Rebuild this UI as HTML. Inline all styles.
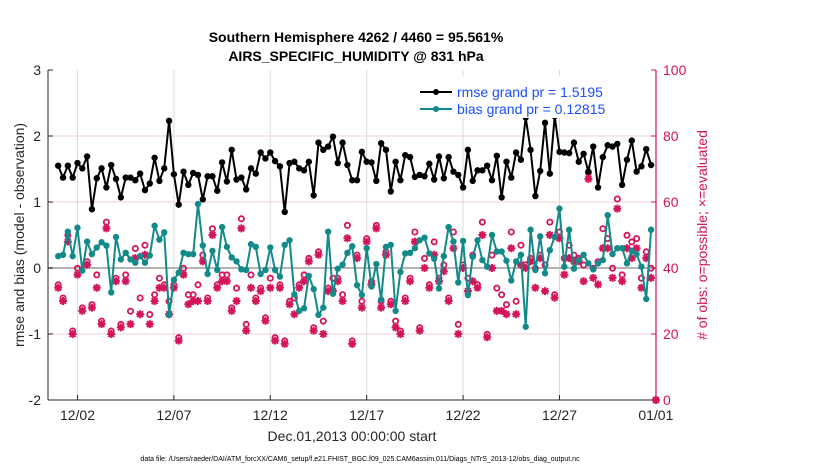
<!DOCTYPE html>
<html><head><meta charset="utf-8"><style>
body{margin:0;background:#fff;}
svg{display:block;font-family:"Liberation Sans",Arial,sans-serif;}
</style></head><body>
<svg id="chart" width="830" height="470" viewBox="0 0 830 470">
<g id="grid"></g>
<g id="axes"></g>
<g id="series"></g>
<text x="356" y="42" text-anchor="middle" font-size="14" font-weight="bold">Southern Hemisphere 4262 / 4460 = 95.561%</text>
<text x="356" y="61" text-anchor="middle" font-size="14" font-weight="bold">AIRS_SPECIFIC_HUMIDITY @ 831 hPa</text>
<text transform="translate(24,235) rotate(-90)" text-anchor="middle" font-size="14" fill="#262626">rmse and bias (model - observation)</text>
<text transform="translate(707,235) rotate(-90)" text-anchor="middle" font-size="14" fill="#d4145a"># of obs: o=possible; ×=evaluated</text>
<text x="352" y="441" text-anchor="middle" font-size="14" fill="#262626">Dec.01,2013 00:00:00 start</text>
<text x="360" y="461" text-anchor="middle" font-size="7" fill="#000">data file: /Users/raeder/DAI/ATM_forcXX/CAM6_setup/f.e21.FHIST_BGC.f09_025.CAM6assim.011/Diags_NTrS_2013-12/obs_diag_output.nc</text>
<g>
<rect x="416" y="76" width="234" height="42" fill="#fff"/>
<line x1="420" y1="92" x2="452" y2="92" stroke="#000" stroke-width="2"/>
<circle cx="436" cy="92" r="3" fill="#000"/>
<text x="457" y="97" font-size="14" fill="#1a4fff">rmse grand pr = 1.5195</text>
<line x1="420" y1="109" x2="452" y2="109" stroke="#138a8a" stroke-width="2"/>
<circle cx="436" cy="109" r="3" fill="#138a8a"/>
<text x="457" y="114" font-size="14" fill="#1a4fff">bias grand pr = 0.12815</text>
</g>
</svg>
<script>
const rmse=[1.55,1.37,1.55,1.37,1.59,1.51,1.69,0.89,1.36,1.51,1.22,1.56,1.35,1.07,1.37,1.37,1.33,1.43,1.18,1.28,1.67,1.32,1.51,2.23,1.42,0.96,1.46,1.26,1.44,1.41,1.04,1.39,1.39,1.17,1.60,1.31,1.79,1.34,1.37,1.19,1.51,1.43,1.75,1.66,1.75,1.62,1.54,0.85,1.59,1.61,1.51,1.48,1.61,1.10,1.90,1.79,1.84,1.99,1.59,1.90,1.56,
1.33,1.33,1.76,1.61,1.60,1.32,1.89,1.79,1.16,1.61,1.33,1.71,1.68,1.38,1.41,1.39,1.58,1.34,1.69,1.36,1.68,1.46,1.41,1.22,1.79,1.32,1.48,1.48,1.55,1.33,1.70,1.07,1.61,1.37,1.75,1.64,2.28,1.79,1.09,1.47,2.20,1.43,2.30,1.76,1.75,1.74,1.90,1.61,1.73,1.46,1.84,1.22,1.68,1.86,1.84,1.88,1.26,1.64,1.93,1.46,1.54,1.80,1.56];
const bias=[0.18,0.20,0.55,0.18,0.61,-0.04,0.40,0.21,0.31,0.39,0.34,-0.37,0.47,0.13,0.23,0.13,0.08,0.18,0.08,0.19,0.64,0.43,0.54,-0.71,-0.18,-0.07,0.23,0.21,0.21,0.97,0.34,-0.09,0.26,-0.03,0.62,0.32,0.16,0.10,-0.02,-0.03,0.36,0.32,-0.09,-0.03,0.31,-0.03,-0.13,0.35,0.42,-0.40,-0.65,-0.61,-0.12,-0.32,-0.71,-0.60,0.55,-0.39,-0.01,0.05,0.23,
0.33,-0.26,-0.41,0.30,-0.28,0.06,-0.48,0.32,0.35,-0.65,-0.06,0.22,0.23,0.30,0.42,0.46,0.22,0.14,-0.31,0.18,0.62,0.40,-0.22,0.41,-0.41,0.17,0.42,0.12,0.02,0.50,0.25,0.25,0.11,-0.19,0.10,0.20,-0.89,0.58,-0.03,0.48,-0.08,0.27,0.47,0.90,0.02,0.58,-0.01,0.12,0.20,0.07,-0.02,0.07,0.12,0.80,0.21,0.30,0.30,0.07,0.26,0.21,0.02,-0.47,0.58];
const nUsed=[34,30,48,20,38,27,41,28,34,23,52,20,36,22,36,23,43,26,44,23,30,34,34,26,34,18,38,29,30,30,42,30,50,34,36,36,27,30,52,21,34,30,33,24,34,18,34,17,29,26,34,36,42,21,44,20,33,33,36,30,49,
17,43,28,48,35,52,28,44,29,22,20,30,36,48,21,40,34,44,36,39,30,46,20,40,33,36,34,50,19,40,27,
27,26,46,26,41,40,42,34,43,33,50,31,49,38,43,42,42,36,67,37,35,46,46,37,58,36,46,43,46,34,43,37,0];
const nPoss=[34,30,49,20,39,27,41,28,37,23,53,20,36,22,37,26,45,30,46,25,31,36,34,29,34,18,39,31,31,34,43,30,51,34,37,37,27,33,54,22,37,30,33,24,36,18,34,17,29,30,34,37,42,21,44,23,33,36,36,31,52,
17,43,29,48,35,52,29,44,29,23,20,30,36,50,21,42,34,47,36,40,30,50,22,40,36,43,34,53,19,43,33,
31,28,50,29,46,40,42,39,43,40,53,31,50,42,46,43,42,40,68,39,41,51,48,39,60,37,49,47,48,36,44,39,0];
const xTickLabels=["12/02","12/07","12/12","12/17","12/22","12/27","01/01"];
const xTickDays=[1,6,11,16,21,26,31];
const yTickLabels=["-2","-1","0","1","2","3"];
const yTickVals=[-2,-1,0,1,2,3];
const rTickVals=[0,20,40,60,80,100];

const NS='http://www.w3.org/2000/svg';
const L=48,R=656,T=70,B=400;
const day0=58.2,dayW=19.28;
const xDay=d=>day0+d*dayW;
const xIdx=i=>xDay(i/4);
const yL=v=>B-(v+2)/5*(B-T);
const yR=c=>B-c/100*(B-T);
function mk(tag,attrs,parent){const e=document.createElementNS(NS,tag);for(const k in attrs)e.setAttribute(k,attrs[k]);parent.appendChild(e);return e;}
const grid=document.getElementById('grid'),axes=document.getElementById('axes'),ser=document.getElementById('series');

yTickVals.forEach((v,i)=>{
  const y=yL(v);
  if(v!==-2&&v!==3&&v!==0){const g=mk('line',{x1:L,x2:R,y1:y,y2:y,stroke:'#f0d0dc','stroke-width':1},grid);
  
  }
  const t=mk('text',{x:L-7,y:y+5,'text-anchor':'end','font-size':14,fill:'#262626'},axes);t.textContent=yTickLabels[i];
  
  
  mk('line',{x1:L,x2:L+5,y1:y,y2:y,stroke:'#262626'},axes);
});
rTickVals.forEach(c=>{
  const y=yR(c);
  mk('line',{x1:R-5,x2:R,y1:y,y2:y,stroke:'#d4145a'},axes);
  const t=mk('text',{x:R+7,y:y+5,'font-size':14,fill:'#d4145a'},axes);t.textContent=c;
  
  
});
xTickDays.forEach((d,i)=>{
  const x=xDay(d);
  const g=mk('line',{x1:x,x2:x,y1:T,y2:B,stroke:'#dcdcdc'},grid);
  
  
  mk('line',{x1:x,x2:x,y1:B,y2:B-5,stroke:'#262626'},axes);
  const t=mk('text',{x:x,y:B+20,'text-anchor':'middle','font-size':14,fill:'#262626'},axes);t.textContent=xTickLabels[i];
  
  
});
const zl=mk('line',{x1:L,x2:R,y1:yL(0),y2:yL(0),stroke:'#b4b4b4','stroke-width':2},grid);


const ax1=mk('line',{x1:L,x2:L,y1:T,y2:B,stroke:'#262626'},axes);


const ax2=mk('line',{x1:L,x2:R,y1:B,y2:B,stroke:'#262626'},axes);


const ax3=mk('line',{x1:R,x2:R,y1:T,y2:B,stroke:'#d4145a','stroke-width':1.2},axes);



const MG='#d4145a';
nPoss.forEach((c,i)=>{
  const x=xIdx(i),y=yR(c)-(c>0?3:0);
  const o=mk('circle',{cx:x,cy:y,r:2.6,fill:'none',stroke:MG,'stroke-width':1.8},ser);
  
  
});
nUsed.forEach((c,i)=>{
  const x=xIdx(i),y=yR(c),r=4,q=2.9;
  const d=`M${x-r},${y}H${x+r}M${x},${y-r}V${y+r}M${x-q},${y-q}L${x+q},${y+q}M${x-q},${y+q}L${x+q},${y-q}`;
  const s=mk('path',{d:d,stroke:MG,'stroke-width':2,fill:'none'},ser);
  
  
});
function line(vals,color,name){
  const d=vals.map((v,i)=>(i?'L':'M')+xIdx(i).toFixed(1)+','+yL(v).toFixed(1)).join('');
  const p=mk('path',{d:d,fill:'none',stroke:color,'stroke-width':2,'stroke-linejoin':'round'},ser);
  
  
  vals.forEach((v,i)=>{const c=mk('circle',{cx:xIdx(i),cy:yL(v),r:3.2,fill:color},ser);
    
    });
}
line(bias,'#138a8a','bias');
line(rmse,'#000','rmse');
</script>
</body></html>
